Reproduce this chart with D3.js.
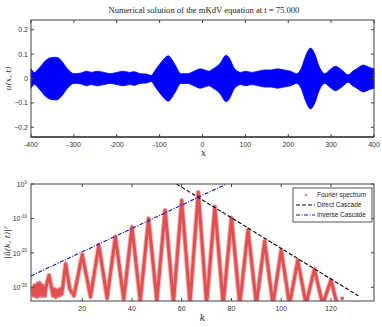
<!DOCTYPE html>
<html><head><meta charset="utf-8">
<script src="https://cdn.jsdelivr.net/npm/d3@7"></script>
<style>body{margin:0;background:#fff}svg{display:block}</style>
</head><body>
<script>
// ---- top panel data: envelope of u(x,t) ----
const envX  = [-400,-392,-380,-365,-355,-340,-330,-315,-300,-285,-270,-260,-245,-230,-215,-200,-185,-170,-160,-145,-130,-120,-110,-95,-80,-65,-50,-35,-20,-5,5,15,25,40,55,62,75,90,100,115,130,145,160,175,190,205,220,230,240,252,262,272,285,300,310,325,340,350,360,375,390,400];
const envUp = [0.040,0.025,0.045,0.075,0.085,0.087,0.075,0.040,0.020,0.022,0.030,0.025,0.030,0.025,0.020,0.025,0.030,0.025,0.028,0.020,0.018,0.012,0.035,0.070,0.093,0.060,0.020,0.020,0.030,0.040,0.035,0.030,0.040,0.060,0.095,0.085,0.040,0.025,0.030,0.025,0.030,0.035,0.035,0.040,0.035,0.030,0.020,0.040,0.090,0.125,0.100,0.050,0.020,0.040,0.050,0.035,0.015,0.030,0.040,0.055,0.045,0.040];
const envLo = [-0.040,-0.025,-0.045,-0.075,-0.085,-0.088,-0.075,-0.040,-0.020,-0.022,-0.030,-0.025,-0.030,-0.025,-0.020,-0.025,-0.030,-0.025,-0.028,-0.020,-0.018,-0.012,-0.035,-0.070,-0.093,-0.060,-0.020,-0.020,-0.030,-0.040,-0.035,-0.030,-0.040,-0.060,-0.095,-0.085,-0.040,-0.025,-0.030,-0.025,-0.030,-0.035,-0.035,-0.040,-0.035,-0.030,-0.020,-0.040,-0.090,-0.125,-0.100,-0.050,-0.020,-0.040,-0.050,-0.035,-0.015,-0.030,-0.040,-0.055,-0.045,-0.040];
const topXTicks = [-400,-300,-200,-100,0,100,200,300,400];
const topYTicks = [-0.2,-0.1,0,0.1,0.2];

// ---- bottom panel data: Fourier spectrum vertices (k, log10 |u^|^2) ----
const specK   = [0.2,0.5,0.8,1.1,1.4,1.7,2.0,2.3,2.6,2.9,3.2,3.5,3.8,4.1,4.4,4.7,5.0,5.4,6.67,7.6,8.3,8.8,9.4,10,10.6,11.2,11.8,13.33,15,16.67,20,23.33,26.67,30,33.33,36.67,40,43.33,46.67,50,53.33,56.67,60,63.33,66.67,70,73.33,76.67,80,83.33,86.67,90,93.33,96.67,100,103.33,106.67,110,113.33,116.67,120,122.5];
const specLog = [-30.5,-32.5,-29.5,-32,-30,-32.8,-29,-31.5,-32.5,-28.8,-32,-30,-32.5,-29.5,-31.8,-30.5,-32.5,-30,-26.5,-30,-32.5,-30.5,-32.8,-30.8,-32.5,-30.5,-32,-23.2,-30.5,-32.5,-20.5,-32.8,-17.7,-33.2,-15.3,-33.5,-12.5,-34,-10,-34,-7.6,-34.5,-4.8,-34.5,-2.4,-35,-6.6,-35,-9.8,-35,-13.3,-35,-16.6,-35,-19.2,-35,-22.2,-35,-24.7,-35,-27.9,-35];
const dotK = [124.5], dotLog = [-33.2];
const directK = [57.9, 131], directLog = [0, -32.5];
const inverseK = [-0.6, 78], inverseLog = [-26.7, 0];
const botXTicks = [20,40,60,80,100,120];
const botYTicks = [0,-10,-20,-30];
const legendLabels = ["Fourier spectrum","Direct Cascade","Inverse Cascade"];

const W = 382, H = 327;
const svg = d3.select("body").append("svg").attr("width",W).attr("height",H);
const axisCol = "#404040";
const tickFont = "'Liberation Sans', Arial, sans-serif";
const serif = "'DejaVu Serif', 'Liberation Serif', serif";
const red = "#e05050";

// ================= TOP PANEL =================
const tL=31,tR=374,tT=20,tB=137;
const xT = d3.scaleLinear().domain([-400,400]).range([tL,tR]);
const yT = d3.scaleLinear().domain([-0.24,0.24]).range([tB,tT]);

svg.append("text").attr("x",204).attr("y",13).attr("text-anchor","middle")
  .attr("font-family","'Liberation Serif', serif").attr("font-size",8.6).attr("fill","#222")
  .text("Numerical solution of the mKdV equation at t = 75.000");

const envData = envX.map((x,i)=>({x,u:envUp[i],l:envLo[i]}));
svg.append("path").datum(envData)
  .attr("d",d3.area().x(d=>xT(d.x)).y0(d=>yT(d.l)).y1(d=>yT(d.u)).curve(d3.curveMonotoneX))
  .attr("fill","#0000ff").attr("stroke","#0000ff").attr("stroke-width",0.8);

function box(g,l,r,t,b){
  g.append("rect").attr("x",l).attr("y",t).attr("width",r-l).attr("height",b-t)
   .attr("fill","none").attr("stroke",axisCol).attr("stroke-width",1);
}
const gTop = svg.append("g");
box(gTop,tL,tR,tT,tB);
gTop.append("line").attr("x1",tL).attr("x2",tR).attr("y1",tB).attr("y2",tB).attr("stroke","#111").attr("stroke-width",1.2);
topXTicks.forEach(v=>{
  const x=xT(v);
  gTop.append("line").attr("x1",x).attr("x2",x).attr("y1",tB).attr("y2",tB-3).attr("stroke",axisCol);
  gTop.append("line").attr("x1",x).attr("x2",x).attr("y1",tT).attr("y2",tT+3).attr("stroke",axisCol);
  gTop.append("text").attr("x",x).attr("y",tB+10).attr("text-anchor","middle")
    .attr("font-family",tickFont).attr("font-size",7).attr("fill","#333").text(v);
});
topYTicks.forEach(v=>{
  const y=yT(v);
  gTop.append("line").attr("x1",tL).attr("x2",tL+3).attr("y1",y).attr("y2",y).attr("stroke",axisCol);
  gTop.append("line").attr("x1",tR).attr("x2",tR-3).attr("y1",y).attr("y2",y).attr("stroke",axisCol);
  gTop.append("text").attr("x",tL-3).attr("y",y+2.5).attr("text-anchor","end")
    .attr("font-family",tickFont).attr("font-size",7).attr("fill","#333").text(v===0?"0":d3.format(".1f")(v));
});
svg.append("text").attr("x",(tL+tR)/2+1).attr("y",156).attr("text-anchor","middle")
  .attr("font-family",serif).attr("font-style","italic").attr("font-size",9).attr("fill","#222").text("x");
svg.append("text").attr("transform",`translate(11,${(tT+tB)/2}) rotate(-90)`).attr("text-anchor","middle")
  .attr("font-family",serif).attr("font-style","italic").attr("font-size",8).attr("fill","#222").text("u(x, t)");

// ================= BOTTOM PANEL =================
const bL=31,bR=374,bT=184,bB=301;
const xB = d3.scaleLinear().domain([-0.6,137.3]).range([bL,bR]);
const yB = d3.scaleLog().domain([1e-34,1e0]).range([bB,bT]);
const clip = svg.append("defs").append("clipPath").attr("id","cb");
clip.append("rect").attr("x",bL).attr("y",bT).attr("width",bR-bL).attr("height",bB-bT);
const gPlot = svg.append("g").attr("clip-path","url(#cb)");

const spec = specK.map((k,i)=>({k,v:Math.pow(10,specLog[i])}));
const specLine = d3.line().x(d=>xB(d.k)).y(d=>yB(d.v));
gPlot.append("path").datum(spec).attr("d",specLine)
  .attr("fill","none").attr("stroke",red).attr("stroke-opacity",0.45).attr("stroke-width",5)
  .attr("stroke-linejoin","round").attr("stroke-linecap","round");
gPlot.append("path").datum(spec).attr("d",specLine)
  .attr("fill","none").attr("stroke",red).attr("stroke-width",3)
  .attr("stroke-linejoin","round").attr("stroke-linecap","round");
gPlot.selectAll("circle.dot").data(dotK.map((k,i)=>({k,v:Math.pow(10,dotLog[i])}))).enter()
  .append("circle").attr("cx",d=>xB(d.k)).attr("cy",d=>yB(d.v)).attr("r",1.8).attr("fill",red);

const dirData = directK.map((k,i)=>({k,v:Math.pow(10,directLog[i])}));
gPlot.append("path").datum(dirData).attr("d",d3.line().x(d=>xB(d.k)).y(d=>yB(d.v)))
  .attr("stroke","#000").attr("stroke-width",1.1).attr("stroke-dasharray","4,2").attr("fill","none");
const invData = inverseK.map((k,i)=>({k,v:Math.pow(10,inverseLog[i])}));
gPlot.append("path").datum(invData).attr("d",d3.line().x(d=>xB(d.k)).y(d=>yB(d.v)))
  .attr("stroke","#1010d0").attr("stroke-width",1.1).attr("stroke-dasharray","4,1.5,1,1.5").attr("fill","none");

const gBot = svg.append("g");
box(gBot,bL,bR,bT,bB);
botXTicks.forEach(v=>{
  const x=xB(v);
  gBot.append("line").attr("x1",x).attr("x2",x).attr("y1",bB).attr("y2",bB-3).attr("stroke",axisCol);
  gBot.append("line").attr("x1",x).attr("x2",x).attr("y1",bT).attr("y2",bT+3).attr("stroke",axisCol);
  gBot.append("text").attr("x",x).attr("y",bB+10).attr("text-anchor","middle")
    .attr("font-family",tickFont).attr("font-size",7).attr("fill","#333").text(v);
});
botYTicks.forEach(e=>{
  const y=yB(Math.pow(10,e));
  gBot.append("line").attr("x1",bL).attr("x2",bL+3).attr("y1",y).attr("y2",y).attr("stroke",axisCol);
  gBot.append("line").attr("x1",bR).attr("x2",bR-3).attr("y1",y).attr("y2",y).attr("stroke",axisCol);
  const t = gBot.append("text").attr("x",tL-4).attr("y",y+3).attr("text-anchor","end")
    .attr("font-family",tickFont).attr("font-size",7).attr("fill","#333");
  t.append("tspan").text("10");
  t.append("tspan").attr("dy",-3.5).attr("font-size",4.5).text(e);
});
svg.append("text").attr("x",(bL+bR)/2).attr("y",321).attr("text-anchor","middle")
  .attr("font-family",serif).attr("font-style","italic").attr("font-size",9).attr("fill","#222").text("k");
svg.append("text").attr("transform",`translate(10,${(bT+bB)/2}) rotate(-90)`).attr("text-anchor","middle")
  .attr("font-family",serif).attr("font-style","italic").attr("font-size",8).attr("fill","#222").text("|û(k, t)|²");

// legend
const lgX=293, lgY=188, lgW=79, lgH=34;
const lg = svg.append("g");
lg.append("rect").attr("x",lgX).attr("y",lgY).attr("width",lgW).attr("height",lgH)
  .attr("fill","#fff").attr("stroke",axisCol).attr("stroke-width",0.9);
legendLabels.forEach((s,i)=>{
  const y = lgY+7+i*10;
  if(i===0) lg.append("circle").attr("cx",lgX+13).attr("cy",y).attr("r",1.1).attr("fill",red);
  if(i===1) lg.append("line").attr("x1",lgX+3).attr("x2",lgX+22).attr("y1",y).attr("y2",y)
     .attr("stroke","#000").attr("stroke-width",1).attr("stroke-dasharray","4,2");
  if(i===2) lg.append("line").attr("x1",lgX+3).attr("x2",lgX+22).attr("y1",y).attr("y2",y)
     .attr("stroke","#1010d0").attr("stroke-width",1).attr("stroke-dasharray","4,1.5,1,1.5");
  lg.append("text").attr("x",lgX+24).attr("y",y+2.3).attr("font-family",tickFont)
    .attr("font-size",6.5).attr("fill","#222").text(s);
});
</script>
</body></html>
